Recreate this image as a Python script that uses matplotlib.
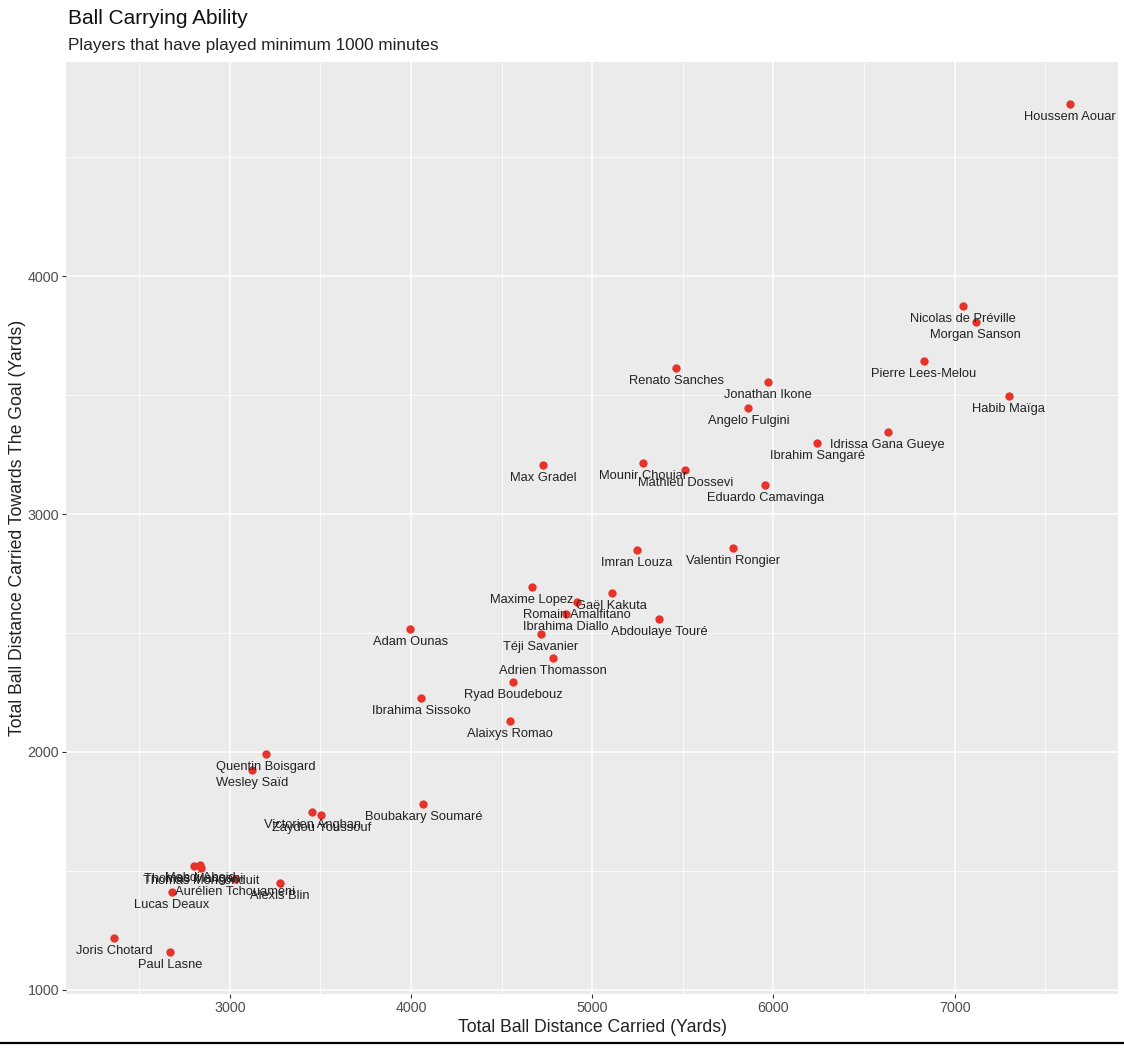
import matplotlib
matplotlib.use("Agg")
import matplotlib.pyplot as plt
from matplotlib.lines import Line2D
import numpy as np

plt.rcParams['font.family'] = ['Liberation Sans', 'DejaVu Sans']

players = ["Houssem Aouar", "Nicolas de Préville", "Morgan Sanson", "Pierre Lees-Melou",
           "Habib Maïga", "Renato Sanches", "Jonathan Ikone", "Angelo Fulgini",
           "Idrissa Gana Gueye", "Ibrahim Sangaré", "Max Gradel", "Mounir Chouiar",
           "Mathieu Dossevi", "Eduardo Camavinga", "Imran Louza", "Valentin Rongier",
           "Maxime Lopez", "Gaël Kakuta", "Romain Amalfitano", "Ibrahima Diallo",
           "Abdoulaye Touré", "Téji Savanier", "Adrien Thomasson", "Ryad Boudebouz",
           "Adam Ounas", "Ibrahima Sissoko", "Alaixys Romao", "Quentin Boisgard",
           "Wesley Saïd", "Boubakary Soumaré", "Victorien Angban", "Zaydou Youssouf",
           "Thomas Mangani", "Mehdi Abeid", "Thomas Monconduit", "Aurélien Tchouaméni",
           "Alexis Blin", "Lucas Deaux", "Joris Chotard", "Paul Lasne"]

total_carried = [7638, 7045, 7117, 6830, 7300, 5463, 5972, 5862, 6631, 6243,
                 4728, 5281, 5513, 5956, 5248, 5779, 4667, 5109, 4916, 4855,
                 5369, 4716, 4783, 4562, 3997, 4058, 4545, 3201, 3123, 4069,
                 3455, 3505, 2802, 2835, 2841, 3029, 3278, 2680, 2360, 2669]

towards_goal = [4723, 3874, 3807, 3643, 3496, 3613, 3555, 3445, 3345, 3298,
                3206, 3214, 3185, 3122, 2849, 2857, 2693, 2668, 2630, 2580,
                2559, 2496, 2395, 2294, 2517, 2227, 2130, 1992, 1924, 1782,
                1748, 1735, 1521, 1525, 1513, 1466, 1450, 1412, 1218, 1160]

x_major = [3000, 4000, 5000, 6000, 7000]
x_minor = [2500, 3500, 4500, 5500, 6500, 7500]
y_major = [1000, 2000, 3000, 4000]
y_minor = [1500, 2500, 3500, 4500]

W, H = 1124, 1048
fig = plt.figure(figsize=(W / 100, H / 100), dpi=100)
fig.patch.set_facecolor('white')
L, R, T, B = 66, 1118, 62, 994
ax = fig.add_axes([L / W, (H - B) / H, (R - L) / W, (B - T) / H])
ax.set_facecolor('#EBEBEB')

x = np.array(total_carried)
y = np.array(towards_goal)
xr = x.max() - x.min()
yr = y.max() - y.min()
ax.set_xlim(x.min() - 0.05 * xr, x.max() + 0.05 * xr)
ax.set_ylim(y.min() - 0.05 * yr, y.max() + 0.05 * yr)

ax.set_xticks(x_major)
ax.set_xticks(x_minor, minor=True)
ax.set_yticks(y_major)
ax.set_yticks(y_minor, minor=True)
ax.grid(which='major', color='white', linewidth=1.1)
ax.grid(which='minor', color='white', linewidth=0.55)
ax.set_axisbelow(True)
for s in ax.spines.values():
    s.set_visible(False)
ax.tick_params(which='major', length=3, width=0.8, color='#333333',
               labelcolor='#4D4D4D', labelsize=10.3, pad=2)
ax.tick_params(which='minor', length=0)

ax.scatter(x, y, s=36, color='#E8322A', zorder=3, linewidths=0)
for name, xi, yi in zip(players, x, y):
    ax.annotate(name, (xi, yi), xytext=(0, -13), textcoords='offset pixels',
                ha='center', va='center', fontsize=9.3, color='#222222', zorder=4)

ax.set_xlabel('Total Ball Distance Carried (Yards)', fontsize=12.7, color='#222222', labelpad=3)
ax.set_ylabel('Total Ball Distance Carried Towards The Goal (Yards)', fontsize=12.7,
              color='#222222', labelpad=1)

fig.text(68 / W, 1 - 18 / H, 'Ball Carrying Ability', fontsize=15, color='#111111',
         ha='left', va='center')
fig.text(68 / W, 1 - 45 / H, 'Players that have played minimum 1000 minutes', fontsize=12.3,
         color='#222222', ha='left', va='center')

fig.add_artist(Line2D([0, 1], [1 - 1043 / H, 1 - 1043 / H], transform=fig.transFigure,
                      color='black', linewidth=1.6))

fig.savefig('out.png', dpi=100)
